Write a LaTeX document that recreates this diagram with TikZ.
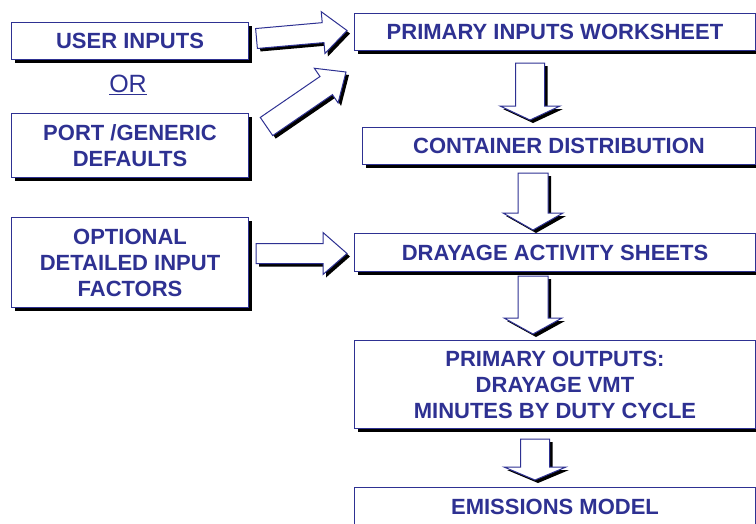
\documentclass[tikz,border=0pt]{standalone}
\usepackage{fontspec}
\setmainfont{Liberation Sans}
\usetikzlibrary{calc,shadows}

\definecolor{flowblue}{RGB}{46,49,146}

% hollow block arrow: tail, tip, shaft half width, head half width, head length
\newcommand{\blockarrow}[5]{%
  \coordinate (ha) at (#1);
  \coordinate (hz) at (#2);
  \coordinate (hb) at ($(hz)!#5!(ha)$);
  \def\arrowpath{($(ha)!#3!90:(hz)$) -- ($(hb)!#3!90:(hz)$) -- ($(hb)!#4!90:(hz)$)
    -- (hz) -- ($(hb)!#4!-90:(hz)$) -- ($(hb)!#3!-90:(hz)$) -- ($(ha)!#3!-90:(hz)$) -- cycle}
  \begin{scope}[transform canvas={shift={(3pt,-3pt)}}]
    \fill[black] \arrowpath;
  \end{scope}
  \filldraw[arrowbody] \arrowpath;
}

\begin{document}
\begin{tikzpicture}[x=1pt, y=-1pt,
    box/.style={draw=flowblue, fill=white, line width=1pt, anchor=north west,
      inner sep=0pt, align=center, text=flowblue,
      font=\fontsize{22}{26}\selectfont\bfseries,
      drop shadow={shadow xshift=3.5pt, shadow yshift=-3.5pt, fill=black, opacity=1}},
    arrowbody/.style={draw=flowblue, fill=white, line width=1pt, line join=miter}]
  \useasboundingbox (0,0) rectangle (756,523);

  % input boxes on the left
  \node[box, minimum width=237pt, minimum height=37pt] (user) at (11,22) {USER INPUTS};
  \node[text=flowblue, font=\fontsize{25}{26}\selectfont] (or) at (128,85) {\underline{OR}};
  \node[box, minimum width=237pt, minimum height=64pt] (port) at (11,113) {PORT /GENERIC\\DEFAULTS};
  \node[box, minimum width=237pt, minimum height=90pt] (opt) at (11,217) {OPTIONAL\\DETAILED INPUT\\FACTORS};

  % main chain on the right
  \node[box, minimum width=401pt, minimum height=37pt] (piw) at (354,13) {PRIMARY INPUTS WORKSHEET};
  \node[box, minimum width=393pt, minimum height=37pt] (cd) at (362,127) {CONTAINER DISTRIBUTION};
  \node[box, minimum width=401pt, minimum height=38pt] (das) at (354,233) {DRAYAGE ACTIVITY SHEETS};
  \node[box, minimum width=401pt, minimum height=88pt] (po) at (354,340) {PRIMARY OUTPUTS:\\DRAYAGE VMT\\MINUTES BY DUTY CYCLE};
  \node[box, minimum width=401pt, minimum height=38pt] (em) at (354,487) {EMISSIONS MODEL};

  % arrows into the chain
  \blockarrow{$(user.east)+(7.5,-2.5)$}{$(piw.west)+(-7,-1.5)$}{10pt}{21pt}{24pt}
  \blockarrow{$(port.north east)+(17.5,13.5)$}{$(piw.south west)+(-8,21)$}{11pt}{21pt}{24pt}
  \blockarrow{$(opt.east)+(7,-9)$}{$(das.west)+(-7,1)$}{10pt}{21pt}{24pt}

  % arrows down the chain
  \blockarrow{$(piw.south -| 530,0)+(0,12)$}{$(cd.north -| 530,0)+(0,-7)$}{14.5pt}{30pt}{14pt}
  \blockarrow{$(cd.south -| 533,0)+(0,8)$}{$(das.north -| 533,0)+(0,-3)$}{15pt}{30pt}{17pt}
  \blockarrow{$(das.south -| 533,0)+(0,4)$}{$(po.north -| 533,0)+(0,-6)$}{15pt}{29pt}{16pt}
  \blockarrow{$(po.south -| 535,0)+(0,10)$}{$(em.north -| 535,0)+(0,-7)$}{14.5pt}{31pt}{13pt}
\end{tikzpicture}
\end{document}
